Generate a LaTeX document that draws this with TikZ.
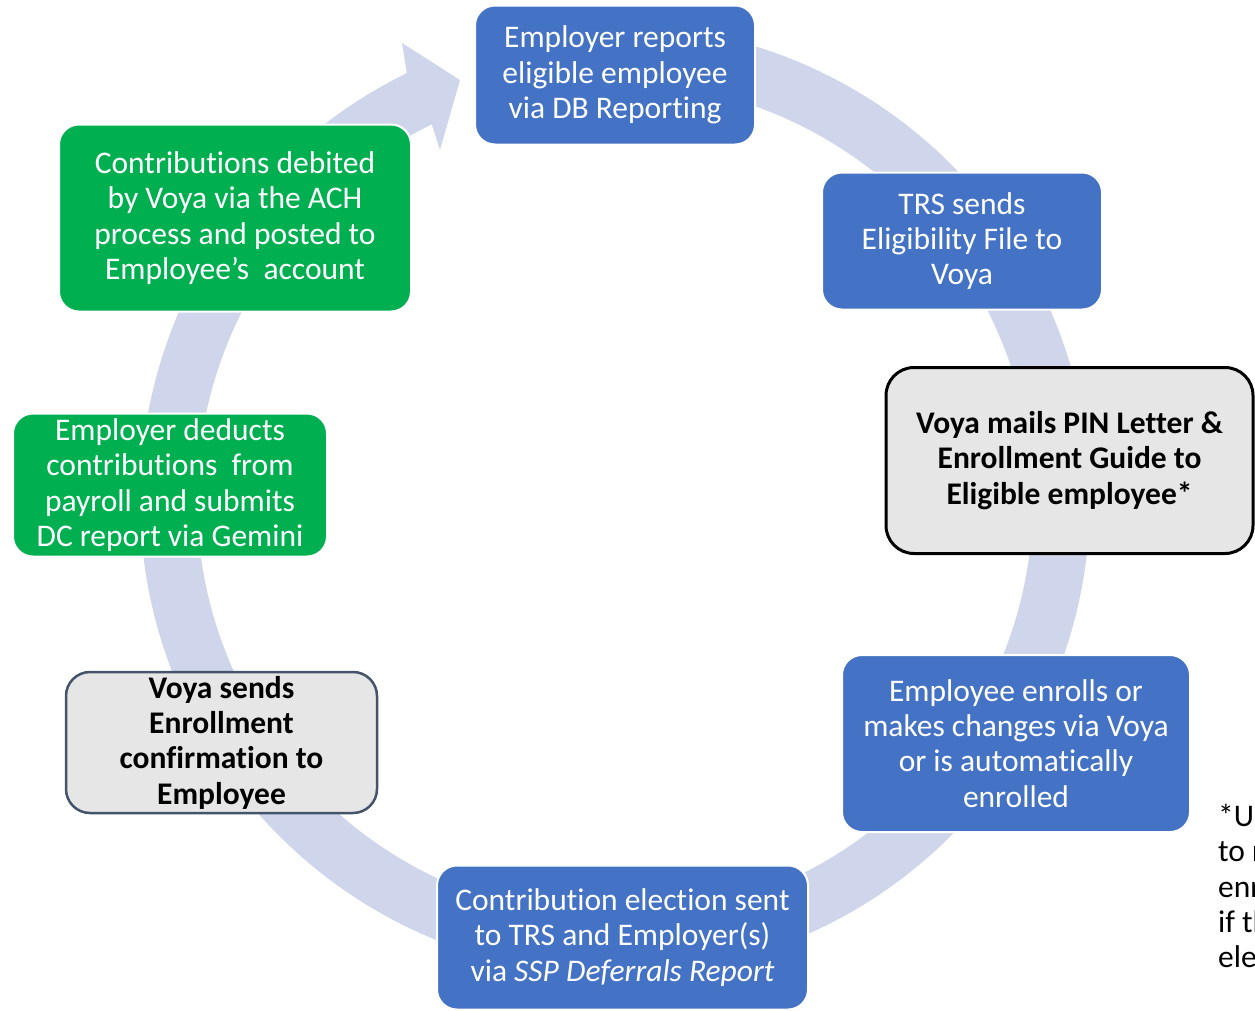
\documentclass[tikz,border=0pt]{standalone}
\usepackage{fontspec}
\setmainfont{Carlito}[RawFeature={-liga;-clig;-dlig}]
\newcommand{\nolig}{\kern0pt }
\definecolor{ringc}{HTML}{CFD5EA}
\definecolor{bluec}{HTML}{4472C4}
\definecolor{greenc}{HTML}{00B050}
\definecolor{grayc}{HTML}{E7E6E6}
\definecolor{slatec}{HTML}{44546A}
\begin{document}
\begin{tikzpicture}[x=1pt,y=-1pt,
  boxbase/.style={align=center, inner sep=0pt, font=\fontsize{31.5}{35.3}\selectfont},
  bluebox/.style={boxbase, fill=bluec, draw=white, line width=2pt, rounded corners=20pt, text=white},
  greenbox/.style={boxbase, fill=greenc, draw=white, line width=2pt, rounded corners=20pt, text=white},
  graybox/.style={boxbase, fill=grayc, line width=3pt, rounded corners=28pt, text=black, font=\fontsize{31.5}{35.3}\selectfont\bfseries},
]
\useasboundingbox (0,0) rectangle (1255,1010);
\clip (0,0) rectangle (1255,1010);
% circular arrow
\fill[ringc] plot[domain=-95:244,samples=200] ({615+475*cos(\x)},{500+475*sin(\x)})
  -- (402,43) -- (460,80) -- (440,150)
  -- plot[domain=244:-95,samples=200] ({615+418*cos(\x)},{500+418*sin(\x)}) -- cycle;
% boxes
\node[bluebox, minimum width=280pt, minimum height=139pt] (b1) at (615,75)
  {Employer reports\\eligible employee\\via DB Report\nolig ing};
\node[bluebox, minimum width=280pt, minimum height=137pt] (b2) at (962,241)
  {TRS sends\\Eligibility File to\\Voya};
\node[graybox, draw=black, minimum width=367pt, minimum height=186pt] (b3) at (1069.5,460.5)
  {Voya mails PIN Letter \&\\Enrollment Guide to\\Eligible employee*};
\node[bluebox, minimum width=348pt, minimum height=177pt] (b4) at (1016,743.5)
  {Employee enrolls or\\makes changes via Voya\\or is automat\nolig ically\\enrolled};
\node[bluebox, minimum width=371pt, minimum height=144pt] (b5) at (622.5,937.5)
  {Contribut\nolig ion elect\nolig ion sent\\to TRS and Employer(s)\\via \textit{SSP Deferrals Report}};
\node[graybox, draw=slatec, line width=2.5pt, rounded corners=24pt, minimum width=311pt, minimum height=141pt] (b6) at (221.5,742.5)
  {Voya sends\\Enrollment\\confirmat\nolig ion to\\Employee};
\node[greenbox, minimum width=314pt, minimum height=143pt] (b7) at (170,485)
  {Employer deducts\\contribut\nolig ions\ \ from\\payroll and submits\\DC report via Gemini};
\node[greenbox, minimum width=352pt, minimum height=187pt] (b8) at (235,218)
  {Contribut\nolig ions debited\\by Voya via the ACH\\process and posted to\\Employee’s\ \ account};
% footnote (cut by the right edge, as in the reference)
\node[anchor=north west, align=left, inner sep=0pt, font=\fontsize{31.5}{35.3}\selectfont] (note) at (1218,804)
  {*Upon\\to re\\enroll\\if the\\elect};
\end{tikzpicture}
\end{document}
